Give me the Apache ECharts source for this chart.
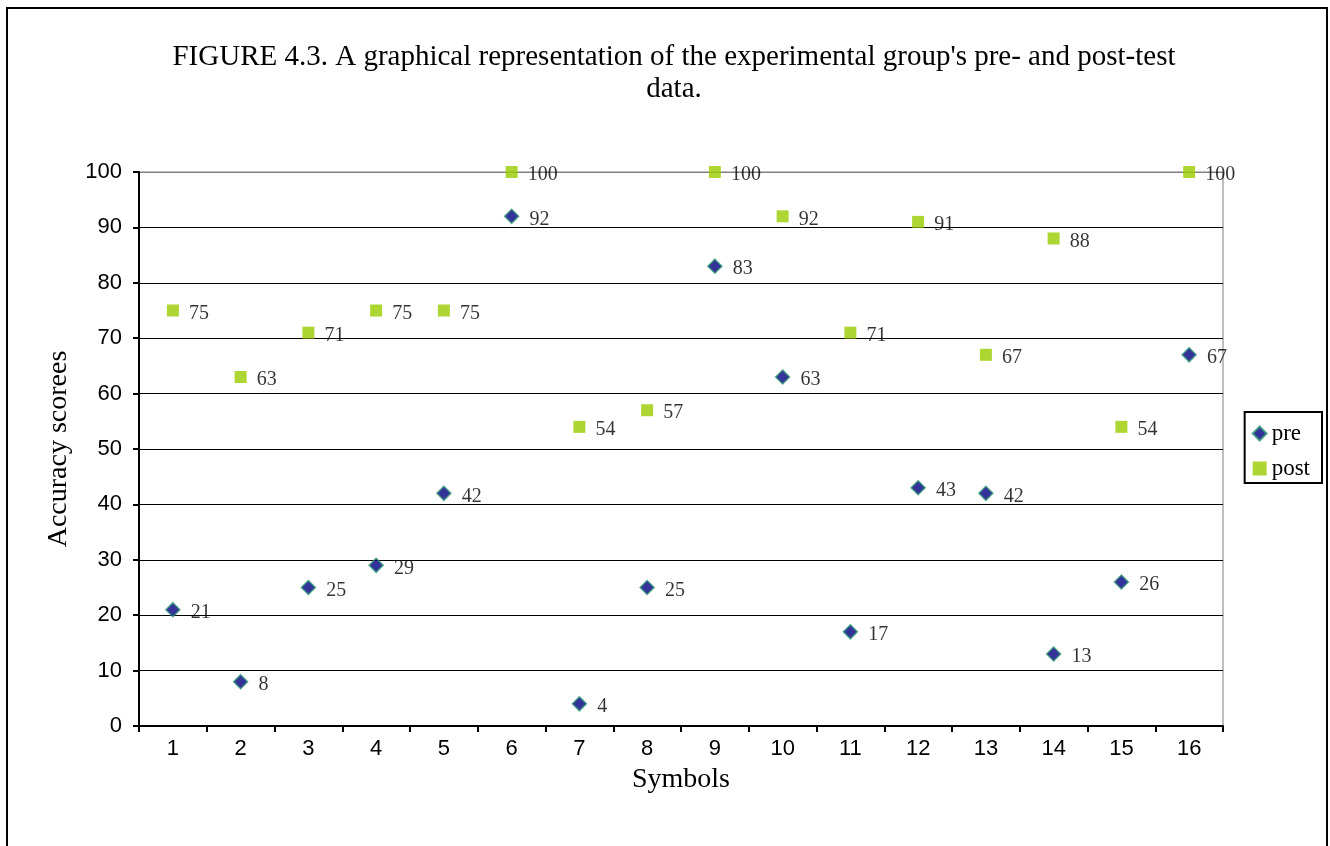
<!DOCTYPE html>
<html>
<head>
<meta charset="utf-8">
<script src="https://cdn.jsdelivr.net/npm/echarts@6/dist/echarts.min.js"></script>
<style>
  html, body { margin: 0; padding: 0; background: #fff; }
  #chart { width: 1330px; height: 846px; }
</style>
</head>
<body>
<div id="chart"></div>
<script>
// Symbols 1..16 on the horizontal axis
const symbols = ['1','2','3','4','5','6','7','8','9','10','11','12','13','14','15','16'];
// Accuracy scores before and after the intervention
const preScores  = [21, 8, 25, 29, 42, 92, 4, 25, 83, 63, 17, 43, 42, 13, 26, 67];
const postScores = [75, 63, 71, 75, 75, 100, 54, 57, 100, 92, 71, 91, 67, 88, 54, 100];
const yTicks = [0, 10, 20, 30, 40, 50, 60, 70, 80, 90, 100];

const serif = '"Liberation Serif", "Times New Roman", serif';
const sans = '"Liberation Sans", Arial, sans-serif';

const chart = echarts.init(document.getElementById('chart'));

const labelStyle = {
  show: true,
  position: 'right',
  distance: 10,
  offset: [0, 3],
  fontFamily: serif,
  fontSize: 20,
  color: '#000'
};

// grey for the top gridline (plot frame), black for the rest
const gridColors = yTicks.map((v, i) => i === yTicks.length - 1 ? '#808080' : '#000');

chart.setOption({
  backgroundColor: '#fff',
  animation: false,
  title: {
    text: "FIGURE 4.3. A graphical representation of the experimental group's pre- and post-test\ndata.",
    left: 669,
    top: 36,
    textAlign: 'center',
    textStyle: {
      fontFamily: serif,
      fontSize: 29,
      fontWeight: 'normal',
      color: '#000',
      lineHeight: 32,
      align: 'center'
    }
  },
  legend: {
    orient: 'vertical',
    right: 8,
    top: 412,
    itemGap: 12,
    itemWidth: 14,
    itemHeight: 14,
    padding: [10, 12, 3, 7],
    borderColor: '#000',
    borderWidth: 2,
    borderRadius: 0,
    textStyle: { fontFamily: serif, fontSize: 23, color: '#000', padding: [0, 0, 0, 0] },
    data: [
      { name: 'pre', icon: 'diamond' },
      { name: 'post', icon: 'rect' }
    ]
  },
  grid: {
    left: 139,
    right: 107,
    top: 172,
    bottom: 120,
    show: true,
    borderColor: '#808080',
    borderWidth: 1
  },
  xAxis: {
    type: 'category',
    data: symbols,
    boundaryGap: true,
    name: 'Symbols',
    nameLocation: 'middle',
    nameGap: 40,
    nameTextStyle: { fontFamily: serif, fontSize: 28, color: '#000' },
    axisLine: { lineStyle: { color: '#000', width: 2 } },
    axisTick: { show: true, inside: false, length: 6, lineStyle: { color: '#000', width: 2 } },
    axisLabel: { fontFamily: sans, fontSize: 22, color: '#000', margin: 12 },
    splitLine: { show: false }
  },
  yAxis: {
    type: 'value',
    min: 0,
    max: 100,
    interval: 10,
    name: 'Accuracy scorees',
    nameLocation: 'middle',
    nameGap: 66,
    nameTextStyle: { fontFamily: serif, fontSize: 28, color: '#000' },
    axisLine: { show: true, lineStyle: { color: '#000', width: 2 } },
    axisTick: { show: true, inside: false, length: 6, lineStyle: { color: '#000', width: 2 } },
    axisLabel: { fontFamily: sans, fontSize: 22, color: '#000', margin: 17 },
    splitLine: { show: true, lineStyle: { color: gridColors, width: 1 } }
  },
  graphic: [
    {
      type: 'rect',
      silent: true,
      z: -1,
      shape: { x: 7, y: 8, width: 1320, height: 900 },
      style: { fill: 'none', stroke: '#000', lineWidth: 2 }
    }
  ],
  series: [
    {
      name: 'pre',
      type: 'scatter',
      data: preScores,
      symbol: 'diamond',
      symbolSize: 14,
      itemStyle: { color: '#000080', borderColor: '#339977', borderWidth: 1.5 },
      label: labelStyle,
      z: 3
    },
    {
      name: 'post',
      type: 'scatter',
      data: postScores,
      symbol: 'rect',
      symbolSize: 12,
      itemStyle: { color: '#99CC00', borderColor: '#99CC00', borderWidth: 0 },
      label: labelStyle,
      z: 2
    }
  ]
});
</script>
</body>
</html>
